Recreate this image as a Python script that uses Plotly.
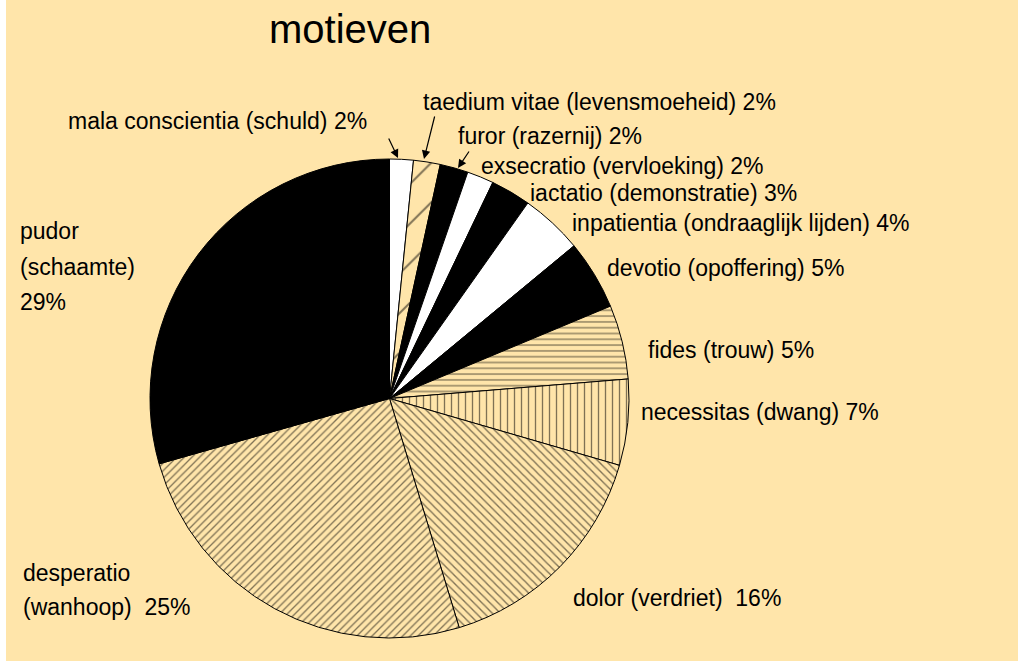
import plotly.graph_objects as go

# ---- data (clockwise from 12 o'clock) ----
categories = [
    "mala conscientia (schuld)",
    "taedium vitae (levensmoeheid)",
    "furor (razernij)",
    "exsecratio (vervloeking)",
    "iactatio (demonstratie)",
    "inpatientia (ondraaglijk lijden)",
    "devotio (opoffering)",
    "fides (trouw)",
    "necessitas (dwang)",
    "dolor (verdriet)",
    "desperatio (wanhoop)",
    "pudor (schaamte)",
]
shares = [1.6, 1.8, 1.9, 1.8, 2.7, 4.2, 4.7, 5.0, 5.8, 15.8, 25.3, 29.4]
# percentages as printed on the chart
pct_labels = ["2%", "2%", "2%", "2%", "3%", "4%", "5%", "5%", "7%", "16%", "25%", "29%"]

BG = "#FFE5AA"
fills = ["white", BG, "black", "white", "black", "white", "black", BG, BG, BG, BG, "black"]
shapes_ = ["", "/", "", "", "", "", "", "-", "|", "\\", "/", ""]
sizes = [8, 28, 8, 8, 8, 8, 8, 5.8, 7, 5.7, 5.4, 8]
solid = [0.1, 0.07, 0.1, 0.1, 0.1, 0.1, 0.1, 0.22, 0.19, 0.24, 0.25, 0.1]

W, H = 1018, 661


def px(x):
    return x / W


def py(y):
    return 1 - y / H


fig = go.Figure(
    go.Pie(
        labels=categories,
        values=shares,
        sort=False,
        direction="clockwise",
        rotation=0,
        textinfo="none",
        hoverinfo="label+percent",
        showlegend=False,
        domain=dict(x=[px(150), px(629)], y=[py(638), py(159)]),
        marker=dict(
            colors=fills,
            line=dict(color="black", width=1),
            pattern=dict(
                shape=shapes_,
                fgcolor="black",
                bgcolor=fills,
                size=sizes,
                solidity=solid,
                fillmode="overlay",
            ),
        ),
    )
)

FONT = "Liberation Sans, Arial, Helvetica, sans-serif"
FS = 23

annotations = []


def label(text, x, y):
    annotations.append(
        dict(
            text=text, x=px(x), y=py(y), xref="paper", yref="paper",
            xanchor="left", yanchor="middle", showarrow=False,
            font=dict(family=FONT, size=FS, color="black"),
        )
    )


# label text positions (left x, center y in pixels)
label(f"{categories[0]} {pct_labels[0]}", 66, 121)
label(f"{categories[1]} {pct_labels[1]}", 421, 102)
label(f"{categories[2]} {pct_labels[2]}", 456, 136)
label(f"{categories[3]} {pct_labels[3]}", 479, 166)
label(f"{categories[4]} {pct_labels[4]}", 528, 193)
label(f"{categories[5]} {pct_labels[5]}", 570, 223)
label(f"{categories[6]} {pct_labels[6]}", 605, 268)
label(f"{categories[7]} {pct_labels[7]}", 646, 350)
label(f"{categories[8]} {pct_labels[8]}", 639, 412)
label(f"dolor (verdriet)  {pct_labels[9]}", 571, 598)
label("desperatio", 21, 573)
label(f"(wanhoop)  {pct_labels[10]}", 21, 607)
label("pudor", 18, 231)
label("(schaamte)", 18, 267)
label(pct_labels[11], 18, 302)

# arrows for the three smallest top slices (head, tail) in pixels
arrows = [((398, 158), (388, 137)), ((424, 159), (435, 115)), ((458, 168), (470, 150))]
for (hx, hy), (tx, ty) in arrows:
    annotations.append(
        dict(
            text="", x=px(hx), y=py(hy), xref="paper", yref="paper",
            ax=tx - hx, ay=ty - hy, axref="pixel", ayref="pixel",
            showarrow=True, arrowhead=2, arrowsize=1.4, arrowwidth=1.2,
            arrowcolor="black",
        )
    )

# title
annotations.append(
    dict(
        text="motieven", x=px(267), y=py(29), xref="paper", yref="paper",
        xanchor="left", yanchor="middle", showarrow=False,
        font=dict(family=FONT, size=40, color="black"),
    )
)

fig.update_layout(
    width=W, height=H,
    margin=dict(l=0, r=0, t=0, b=0),
    paper_bgcolor=BG, plot_bgcolor=BG,
    annotations=annotations,
    shapes=[dict(type="rect", xref="paper", yref="paper", x0=0, x1=px(6), y0=0, y1=1,
                 fillcolor="white", line=dict(width=0), layer="below")],
)

fig.write_html(
    "out.html",
    config={"displayModeBar": False},
    post_script=(
        "document.body.style.margin='0px';"
        "document.body.style.overflow='hidden';"
        f"document.body.style.background='{BG}';"
        f"document.documentElement.style.background='{BG}';"
    ),
)
